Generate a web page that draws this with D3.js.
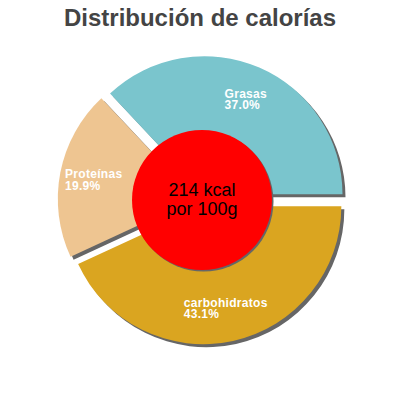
<!DOCTYPE html>
<html>

<head>
    <meta charset="utf-8">
    <script src="https://d3js.org/d3.v7.min.js"></script>
    <style>
        body { margin: 0; background: #fff; }
        text { font-family: "Liberation Sans", Arial, sans-serif; }
    </style>
</head>
<body>
    <script>
        // chart values, in drawing order (clockwise from 3 o'clock)
        let categories = ["carbohidratos", "Proteínas", "Grasas"];
        let percents = [43.1, 19.9, 37.0];
        let colors = ["#DAA520", "#EEC591", "#7AC5CD"];
        let title = "Distribución de calorías";
        let centerLines = ["214 kcal", "por 100g"];

        let width = 400,
            height = 400;
        let cx = 202, cy = 200;
        let outerR = 138, innerR = 70;
        let explode = 6.3;

        let svg = d3.select("body").append("svg")
            .attr("width", width)
            .attr("height", height);

        svg.append("text")
            .attr("x", width / 2)
            .attr("y", 26)
            .attr("text-anchor", "middle")
            .attr("font-size", 24)
            .attr("font-weight", "bold")
            .attr("fill", "#444")
            .text(title);

        let data = categories.map((c, i) => ({ name: c, value: percents[i], color: colors[i] }));

        let pie = d3.pie()
            .sort(null)
            .value(d => d.value)
            .startAngle(Math.PI / 2)
            .endAngle(Math.PI / 2 + 2 * Math.PI);

        let arcs = pie(data);

        let arc = d3.arc().innerRadius(0).outerRadius(outerR);

        // offset of each slice along its bisector
        let shift = function(d) {
            let a = (d.startAngle + d.endAngle) / 2;
            return [Math.sin(a) * explode, -Math.cos(a) * explode];
        };

        let g = svg.append("g").attr("transform", `translate(${cx},${cy})`);

        // shadows
        g.append("g")
            .selectAll("path")
            .data(arcs)
            .join("path")
                .attr("transform", d => {
                    let s = shift(d);
                    return `translate(${s[0] + 3},${s[1] + 3})`;
                })
                .attr("d", arc)
                .attr("fill", "#666");

        g.append("g")
            .selectAll("path")
            .data(arcs)
            .join("path")
                .attr("transform", d => {
                    let s = shift(d);
                    return `translate(${s[0]},${s[1]})`;
                })
                .attr("d", arc)
                .attr("fill", d => d.data.color);

        // labels
        let labelArc = d3.arc().innerRadius(104).outerRadius(104);
        let labels = g.append("g")
            .selectAll("text")
            .data(arcs)
            .join("text")
                .attr("fill", "#fff")
                .attr("font-size", 12)
                .attr("font-weight", "bold")
                .attr("letter-spacing", 0.3);

        labels.each(function(d) {
            let t = d3.select(this);
            let s = shift(d);
            let p = labelArc.centroid(d);
            let x = p[0] + s[0], y = p[1] + s[1] - 1;
            t.append("tspan").text(d.data.name);
            t.append("tspan").text(d.data.value.toFixed(1) + "%");
            let w = d3.max(t.selectAll("tspan").nodes(), n => n.getComputedTextLength());
            t.selectAll("tspan")
                .attr("x", x - w / 2)
                .attr("y", (e, i) => y + i * 11.5);
        });

        // centre disc
        g.append("circle")
            .attr("cx", 1.5)
            .attr("cy", 1.5)
            .attr("r", innerR)
            .attr("fill", "#666");
        g.append("circle")
            .attr("r", innerR)
            .attr("fill", "#ff0000");

        g.append("text")
            .attr("text-anchor", "middle")
            .attr("font-size", 18)
            .attr("fill", "#000")
            .selectAll("tspan")
            .data(centerLines)
            .join("tspan")
                .attr("x", 0)
                .attr("y", (d, i) => -4 + i * 19)
                .text(d => d);
    </script>
</body>
</html>
